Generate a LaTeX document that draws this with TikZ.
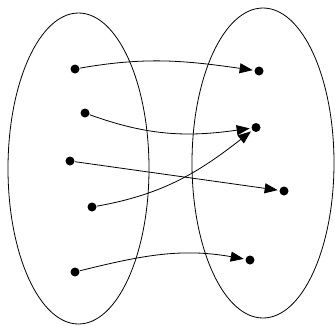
\documentclass[tikz,border=0pt]{standalone}
\usetikzlibrary{arrows.meta}
\begin{document}
\begin{tikzpicture}[x=1pt,y=-1pt,line width=0.8pt,
  dot/.style={circle,fill=black,draw=none,inner sep=0pt,minimum size=9pt},
  maparrow/.style={-{Triangle[length=13pt,width=10pt]},shorten >=1.5pt}]
\useasboundingbox (0,0) rectangle (335,325);
\draw (78.5,168.5) ellipse [x radius=70.5, y radius=155.5];
\draw (263,163) ellipse [x radius=71, y radius=155];
\node[dot] (a1) at (75,69) {};
\node[dot] (a2) at (85,113) {};
\node[dot] (a3) at (70,161) {};
\node[dot] (a4) at (92,207) {};
\node[dot] (a5) at (75,272) {};
\node[dot] (b1) at (259,71) {};
\node[dot] (b2) at (256,127.5) {};
\node[dot] (b3) at (284,191) {};
\node[dot] (b4) at (250,260) {};
\draw[maparrow] (a1) to[out=10,in=172] (b1);
\draw[maparrow] (a2) to[out=-20,in=188] (b2);
\draw[maparrow] (a3) -- (b3);
\draw[maparrow] (a4) to[out=10,in=218] (b2);
\draw[maparrow] (a5) to[out=14,in=170] (b4);
\end{tikzpicture}
\end{document}
